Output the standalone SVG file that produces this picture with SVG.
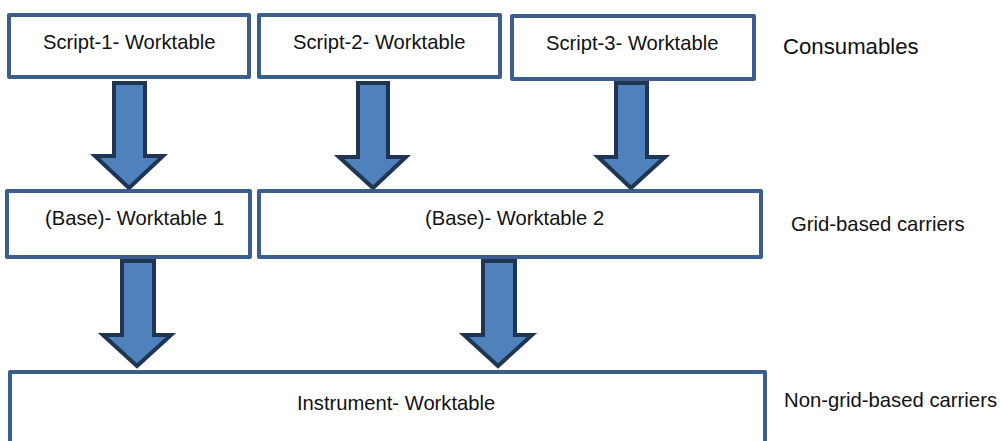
<svg xmlns="http://www.w3.org/2000/svg" width="1000" height="441" viewBox="0 0 1000 441">
  <style>
    .box { fill: #ffffff; stroke: #3b5e8c; stroke-width: 4; stroke-linejoin: round; }
    .arrow { fill: #4f81bd; stroke: #1f3552; stroke-width: 4; stroke-linejoin: miter; }
    .label { font-family: "Liberation Sans", Arial, sans-serif; font-size: 20.2px; fill: #111111; }
    .side { font-family: "Liberation Sans", Arial, sans-serif; font-size: 20.3px; fill: #111111; }
  </style>
  <rect width="1000" height="441" fill="#ffffff"/>

  <!-- block arrows between the layers -->
  <g id="connectors">
    <polygon class="arrow" points="114,83 145,83 145,156 163,156 129,188 95,156 114,156"/>
    <polygon class="arrow" points="358,83 388,83 388,157 406,157 373,188 339,157 358,157"/>
    <polygon class="arrow" points="616,83 647,83 647,157 665,157 631,188 598,157 616,157"/>
    <polygon class="arrow" points="122,261 154,261 154,335 171,335 137,366 103,335 122,335"/>
    <polygon class="arrow" points="483,261 515,261 515,335 532,335 498,366 464,335 483,335"/>
  </g>

  <!-- consumables layer -->
  <g id="script1">
    <rect class="box" x="9" y="15" width="240" height="62"/>
    <text class="label" x="43" y="48.5">Script-1- Worktable</text>
  </g>
  <g id="script2">
    <rect class="box" x="259" y="15" width="241" height="62"/>
    <text class="label" x="293" y="48.5">Script-2- Worktable</text>
  </g>
  <g id="script3">
    <rect class="box" x="512" y="16" width="242" height="63"/>
    <text class="label" x="546" y="50">Script-3- Worktable</text>
  </g>

  <!-- grid-based carrier layer -->
  <g id="base1">
    <rect class="box" x="7" y="191" width="243" height="66"/>
    <text class="label" x="45" y="225">(Base)- Worktable 1</text>
  </g>
  <g id="base2">
    <rect class="box" x="259" y="191" width="502" height="66"/>
    <text class="label" x="425" y="225">(Base)- Worktable 2</text>
  </g>

  <!-- non-grid-based carrier layer -->
  <g id="instrument">
    <rect class="box" x="10" y="372" width="755" height="90"/>
    <text class="label" x="297" y="410">Instrument- Worktable</text>
  </g>

  <!-- layer captions -->
  <g id="captions">
    <text class="side" x="783" y="54" style="font-size:22.2px">Consumables</text>
    <text class="side" x="791" y="231">Grid-based carriers</text>
    <text class="side" x="784" y="407">Non-grid-based carriers</text>
  </g>
</svg>
